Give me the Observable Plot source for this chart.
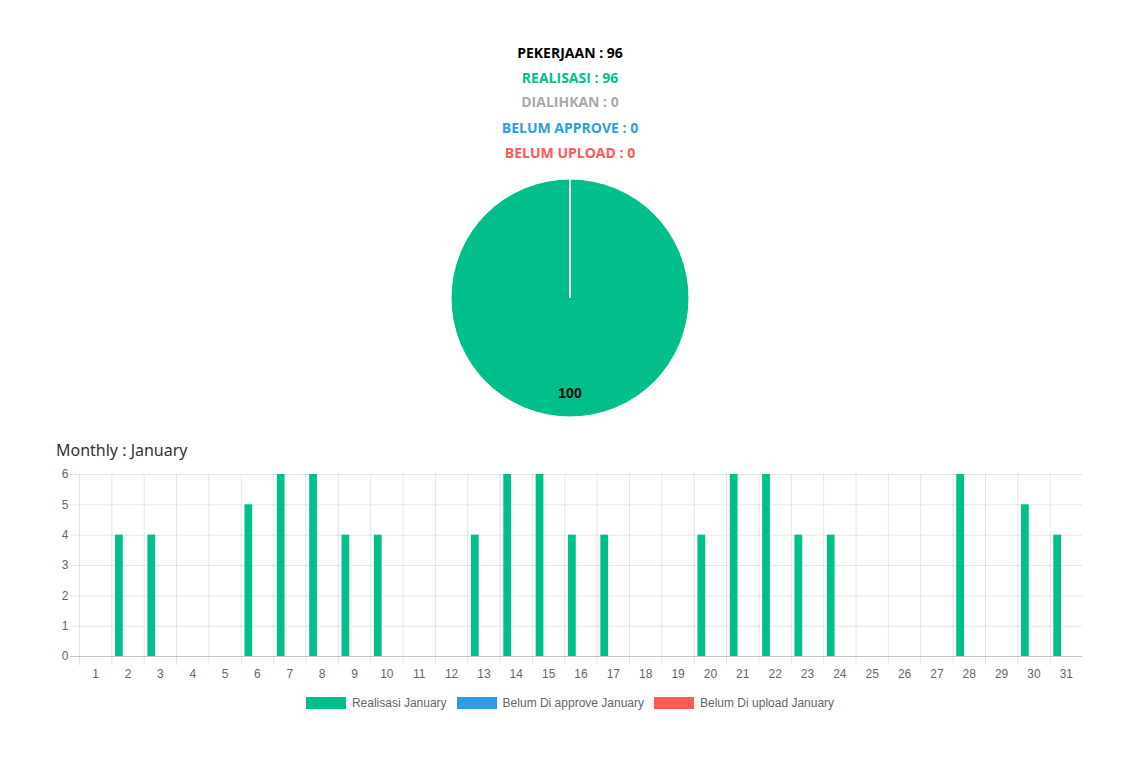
<!DOCTYPE html>
<html>
<head>
<meta charset="utf-8">
<script src="https://cdn.jsdelivr.net/npm/d3@7"></script>
<script src="https://cdn.jsdelivr.net/npm/@observablehq/plot@0.6"></script>
<style>
  html, body { margin: 0; padding: 0; background: #fff; }
  #root { position: relative; width: 1140px; height: 763px; overflow: hidden; }
  .hdr { position: absolute; left: 0; width: 1140px; text-align: center; font-family: "Open Sans", Lato, sans-serif; font-weight: 700; font-size: 14px; line-height: 20px; }
  #title { position: absolute; left: 56px; top: 439px; font-family: "Noto Sans", Lato, sans-serif; font-size: 16px; line-height: 22px; color: #333; }
  #pie { position: absolute; left: 440px; top: 168px; }
  #bars { position: absolute; left: 0; top: 460px; }
  #legend { position: absolute; left: 0; top: 694px; width: 1140px; display: flex; justify-content: center; font-family: "Liberation Sans", Arial, sans-serif; font-size: 12px; color: #666; line-height: 18px; }
  .item { display: flex; align-items: center; margin: 0 5px; }
  .box { width: 40px; height: 12px; margin-right: 6px; box-sizing: border-box; }
</style>
</head>
<body>
<div id="root"></div>
<script>
// ---- data ----
const summaryLabels = ["PEKERJAAN", "REALISASI", "DIALIHKAN", "BELUM APPROVE", "BELUM UPLOAD"];
const summaryValues = [96, 96, 0, 0, 0];

const pieLabels = ["Realisasi", "Dialihkan", "Belum Approve", "Belum Upload"];
const pieValues = [96, 0, 0, 0];

const days = [1,2,3,4,5,6,7,8,9,10,11,12,13,14,15,16,17,18,19,20,21,22,23,24,25,26,27,28,29,30,31];
const realisasiJanuary = [0,4,4,0,0,5,6,6,4,4,0,0,4,6,6,4,4,0,0,4,6,6,4,4,0,0,0,6,0,5,4];
const belumApproveJanuary = [0,0,0,0,0,0,0,0,0,0,0,0,0,0,0,0,0,0,0,0,0,0,0,0,0,0,0,0,0,0,0];
const belumUploadJanuary = [0,0,0,0,0,0,0,0,0,0,0,0,0,0,0,0,0,0,0,0,0,0,0,0,0,0,0,0,0,0,0];
const seriesNames = ["Realisasi January", "Belum Di approve January", "Belum Di upload January"];
const yTicks = [0, 1, 2, 3, 4, 5, 6];

// ---- styles ----
const GREEN = "#00bf8b", BLUE = "#2e9ddf", RED = "#ff5858", GRAY = "#a8a8a8";
const summaryColors = ["#000", GREEN, GRAY, BLUE, RED];
const pieColors = [GREEN, GRAY, BLUE, RED];
const seriesColors = [GREEN, BLUE, RED];

const root = document.getElementById("root");

// header lines
const hdrTops = [43, 68, 92, 118, 143];
summaryLabels.forEach((lab, i) => {
  const d = document.createElement("div");
  d.className = "hdr";
  d.style.top = hdrTops[i] + "px";
  d.style.color = summaryColors[i];
  d.textContent = `${lab} : ${summaryValues[i]}`;
  root.appendChild(d);
});

// ---- pie ----
const pieData = pieLabels.map((label, i) => ({label, value: pieValues[i]}));
const total = d3.sum(pieValues);
const R = 119;
const pieMark = (index, scales, values, dims) => {
  const color = scales.color ?? d3.scaleOrdinal(pieLabels, pieColors);
  const cx = dims.width / 2, cy = dims.height / 2;
  const arcs = d3.pie().sort(null).value(d => d.value)(pieData);
  const arc = d3.arc().innerRadius(0).outerRadius(R);
  const labelArc = d3.arc().innerRadius(R * 0.8).outerRadius(R * 0.8);
  const g = d3.create("svg:g").attr("transform", `translate(${cx},${cy})`);
  g.selectAll("path").data(arcs).join("path")
    .attr("d", arc)
    .attr("fill", d => color(d.data.label))
    .attr("stroke", "#fff")
    .attr("stroke-width", 1);
  g.selectAll("text").data(arcs.filter(a => a.data.value > 0)).join("text")
    .attr("transform", d => `translate(${labelArc.centroid(d)})`)
    .attr("text-anchor", "middle")
    .attr("dy", "0.35em")
    .style("font-family", "'Liberation Sans', Arial, sans-serif")
    .attr("font-weight", "bold")
    .attr("font-size", 14)
    .attr("fill", "#000")
    .text(d => Math.round(d.data.value / total * 100));
  return g.node();
};
const pie = Plot.plot({
  width: 260, height: 260,
  margin: 0,
  x: {axis: null}, y: {axis: null},
  color: {domain: pieLabels, range: pieColors},
  marks: [pieMark]
});
pie.id = "pie";
root.appendChild(pie);

// ---- title ----
const t = document.createElement("div");
t.id = "title";
t.textContent = "Monthly : January";
root.appendChild(t);

// ---- bar chart ----
const W = 1140, H = 226, ML = 79, MR = 58, MT = 14, MB = 30;
const bw = (W - ML - MR) / days.length;
const slot = bw * 0.8 / 3;
const seriesValues = [realisasiJanuary, belumApproveJanuary, belumUploadJanuary];
const barMarks = seriesNames.map((name, si) => {
  const data = days.map((d, i) => ({day: d, value: seriesValues[si][i], series: name}));
  const left = bw * 0.1 + si * slot + slot * 0.05;
  const right = bw - left - slot * 0.9;
  return Plot.rectY(data.filter(d => d.value > 0), {
    x1: d => d.day - 0.5, x2: d => d.day + 0.5, y: "value",
    fill: seriesColors[si], insetLeft: left, insetRight: right
  });
});
const bounds = days.map(d => d - 0.5);
const bars = Plot.plot({
  width: W, height: H,
  marginLeft: ML, marginRight: MR, marginTop: MT, marginBottom: MB,
  style: {fontFamily: "Liberation Sans, Arial, sans-serif", fontSize: "12px", color: "#666", background: "transparent"},
  x: {domain: [0.5, 31.5], ticks: days, tickFormat: d => String(d), tickSize: 0, tickPadding: 13, label: null},
  y: {domain: [0, 6], ticks: yTicks, tickFormat: d => String(d), tickSize: 0, tickPadding: 11, label: null},
  marks: [
    Plot.ruleY(yTicks.filter(v => v > 0), {y: d => d, stroke: "#000", strokeOpacity: 0.1, insetLeft: -9}),
    Plot.ruleX(bounds, {x: d => d, stroke: "#000", strokeOpacity: 0.1, insetBottom: -9}),
    ...barMarks,
    Plot.ruleY([0], {y: d => d, stroke: "#000", strokeOpacity: 0.22, insetLeft: -9})
  ]
});
bars.id = "bars";
root.appendChild(bars);

// ---- legend ----
const lg = document.createElement("div");
lg.id = "legend";
seriesNames.forEach((name, i) => {
  const it = document.createElement("div");
  it.className = "item";
  const b = document.createElement("div");
  b.className = "box";
  b.style.background = seriesColors[i];
  const s = document.createElement("span");
  s.textContent = name;
  it.appendChild(b); it.appendChild(s);
  lg.appendChild(it);
});
root.appendChild(lg);
</script>
</body>
</html>
